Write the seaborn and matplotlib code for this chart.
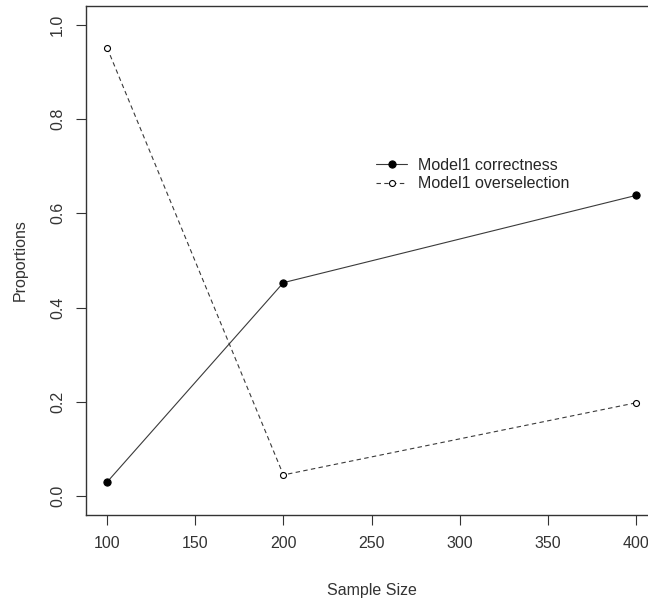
import pandas as pd
import matplotlib
matplotlib.use("Agg")
import matplotlib.pyplot as plt
import seaborn as sns

# -----------------------------
# Data
# -----------------------------

sample_size = [100, 200, 400]
correctness = [0.030, 0.453, 0.638]
overselection = [0.951, 0.045, 0.198]

data = pd.DataFrame({
    "Sample Size": sample_size,
    "correctness": correctness,
    "overselection": overselection,
})

# -----------------------------
# Style
# -----------------------------

sns.set_style("ticks")
plt.rcParams["font.family"] = ["Liberation Sans", "DejaVu Sans"]

W, H = 648, 602
fig = plt.figure(figsize=(W / 100, H / 100), dpi=100)
# R-style box; right edge falls outside the image like the reference
ax = fig.add_axes([86 / W, 1 - 515 / H, (657 - 86) / W, (515 - 6) / H])

sns.lineplot(
    data=data, x="Sample Size", y="correctness", ax=ax,
    color="#3a3a3a", linewidth=0.8, marker="o", markersize=5.2,
    markerfacecolor="black", markeredgecolor="black",
    label="Model1 correctness",
)
sns.lineplot(
    data=data, x="Sample Size", y="overselection", ax=ax,
    color="#3a3a3a", linewidth=0.8, linestyle=(0, (4, 3)), marker="o",
    markersize=4.3, markerfacecolor="white", markeredgecolor="black",
    markeredgewidth=0.8, label="Model1 overselection",
)

ax.set_xlim(88, 412)
ax.set_ylim(-0.04, 1.04)
ax.set_xticks([100, 150, 200, 250, 300, 350, 400])
ax.set_yticks([0.0, 0.2, 0.4, 0.6, 0.8, 1.0])
ax.set_yticklabels(["0.0", "0.2", "0.4", "0.6", "0.8", "1.0"],
                   rotation=90, va="center")
ax.tick_params(axis="both", direction="out", length=7, width=0.8,
               color="#333333", labelsize=11.5, labelcolor="#333333", pad=8)

for s in ax.spines.values():
    s.set_visible(True)
    s.set_linewidth(1.0)
    s.set_color("#333333")

ax.set_xlabel("Sample Size", fontsize=11.5, color="#333333", labelpad=23)
ax.set_ylabel("Proportions", fontsize=11.5, color="#333333", labelpad=16)

leg = ax.legend(
    loc="upper left", bbox_to_anchor=(368 / W, 1 - 150 / H),
    bbox_transform=fig.transFigure, frameon=False, fontsize=11.5,
    handlelength=1.95, handletextpad=0.7, labelspacing=0.22,
    borderpad=0,
)

fig.savefig("out.png", dpi=100)
